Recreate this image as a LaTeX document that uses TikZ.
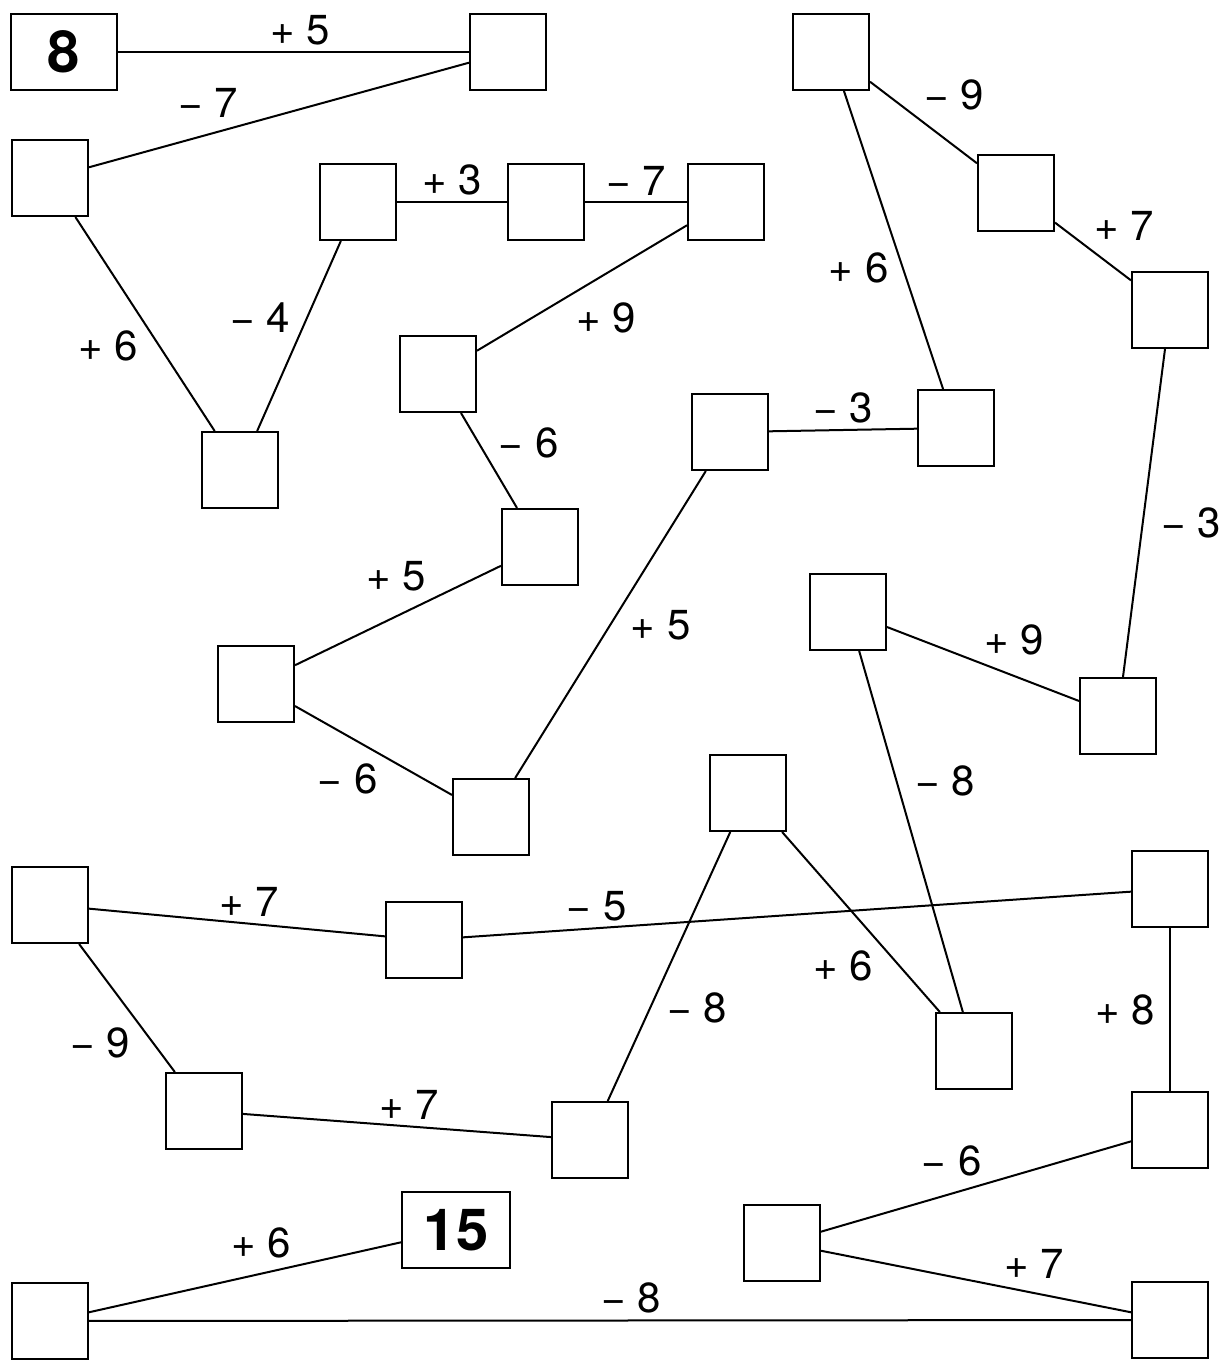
\documentclass[tikz,border=0pt]{standalone}
\usepackage{fontspec}
\setmainfont{TeX Gyre Heros}
\usetikzlibrary{positioning}

\begin{document}
\begin{tikzpicture}[
  x=0.5pt, y=-0.5pt, line width=1pt,
  box/.style={rectangle, draw, minimum size=38pt, inner sep=0pt},
  given/.style={box, minimum width=53pt, font=\fontsize{29}{34}\selectfont\bfseries},
  lbl/.style={font=\fontsize{21}{25}\selectfont, inner sep=3pt}
]
  \useasboundingbox (0,0) rectangle (1225,1360);

  \node[given] (start) at (64,52) {8};
  \node[box] (c1) at (508,52) {};
  \node[box] (c2) at (50,178) {};
  \node[box] (c3) at (358,202) {};
  \node[box] (c4) at (546,202) {};
  \node[box] (c5) at (726,202) {};
  \node[box] (c6) at (240,470) {};
  \node[box] (c7) at (438,374) {};
  \node[box] (c8) at (540,547) {};
  \node[box] (c9) at (256,684) {};
  \node[box] (c10) at (491,817) {};
  \node[box] (c11) at (730,432) {};
  \node[box] (c12) at (956,428) {};
  \node[box] (c13) at (831,52) {};
  \node[box] (c14) at (1016,193) {};
  \node[box] (c15) at (1170,310) {};
  \node[box] (c16) at (1118,716) {};
  \node[box] (c17) at (848,612) {};
  \node[box] (c18) at (974,1051) {};
  \node[box] (c19) at (748,793) {};
  \node[box] (c20) at (50,905) {};
  \node[box] (c21) at (424,940) {};
  \node[box] (c22) at (1170,889) {};
  \node[box] (c23) at (204,1111) {};
  \node[box] (c24) at (590,1140) {};
  \node[box] (c25) at (1170,1130) {};
  \node[box] (c26) at (782,1243) {};
  \node[box] (c27) at (50,1321) {};
  \node[box] (c28) at (1170,1320) {};
  \node[given, minimum width=54pt] (goal) at (456,1230) {15};

  \draw (start) -- node[lbl, pos=.52, above] {+ 5} (c1);
  \draw (c1) -- node[lbl, pos=.59, above left] {− 7} (c2);
  \draw (c2) -- node[lbl, pos=.5, below left] {+ 6} (c6);
  \draw (c6) -- node[lbl, pos=.48, above left] {− 4} (c3);
  \draw (c3) -- node[lbl, above] {+ 3} (c4);
  \draw (c4) -- node[lbl, above] {− 7} (c5);
  \draw (c5) -- node[lbl, pos=.56, below right] {+ 9} (c7);
  \draw (c7) -- node[lbl, pos=.55, above right] {− 6} (c8);
  \draw (c8) -- node[lbl, pos=.33, above left] {+ 5} (c9);
  \draw (c9) -- node[lbl, pos=.57, below left] {− 6} (c10);
  \draw (c10) -- node[lbl, pos=.57, below right] {+ 5} (c11);
  \draw (c11) -- node[lbl, above] {− 3} (c12);
  \draw (c12) -- node[lbl, pos=.48, below left] {+ 6} (c13);
  \draw (c13) -- node[lbl, pos=.44, above right] {− 9} (c14);
  \draw (c14) -- node[lbl, pos=.43, above right] {+ 7} (c15);
  \draw (c15) -- node[lbl, pos=.53, right=6pt] {− 3} (c16);
  \draw (c16) -- node[lbl, pos=.53, above right] {+ 9} (c17);
  \draw (c17) -- node[lbl, pos=.36, right=6pt] {− 8} (c18);
  \draw (c19) -- node[lbl, pos=.62, below left] {+ 6} (c18);
  \draw (c19) -- node[lbl, pos=.57, below right] {− 8} (c24);
  \draw (c23) -- node[lbl, pos=.54, above] {+ 7} (c24);
  \draw (c20) -- node[lbl, pos=.6, below left] {− 9} (c23);
  \draw (c20) -- node[lbl, pos=.54, above] {+ 7} (c21);
  \draw (c21) -- node[lbl, pos=.2, above] {− 5} (c22);
  \draw (c22) -- node[lbl, midway, left=4pt] {+ 8} (c25);
  \draw (c25) -- node[lbl, pos=.46, above left] {− 6} (c26);
  \draw (c26) -- node[lbl, pos=.57, above right] {+ 7} (c28);
  \draw (c27) -- node[lbl, pos=.52, above] {− 8} (c28);
  \draw (c27) -- node[lbl, pos=.67, above left] {+ 6} (goal);
\end{tikzpicture}
\end{document}
